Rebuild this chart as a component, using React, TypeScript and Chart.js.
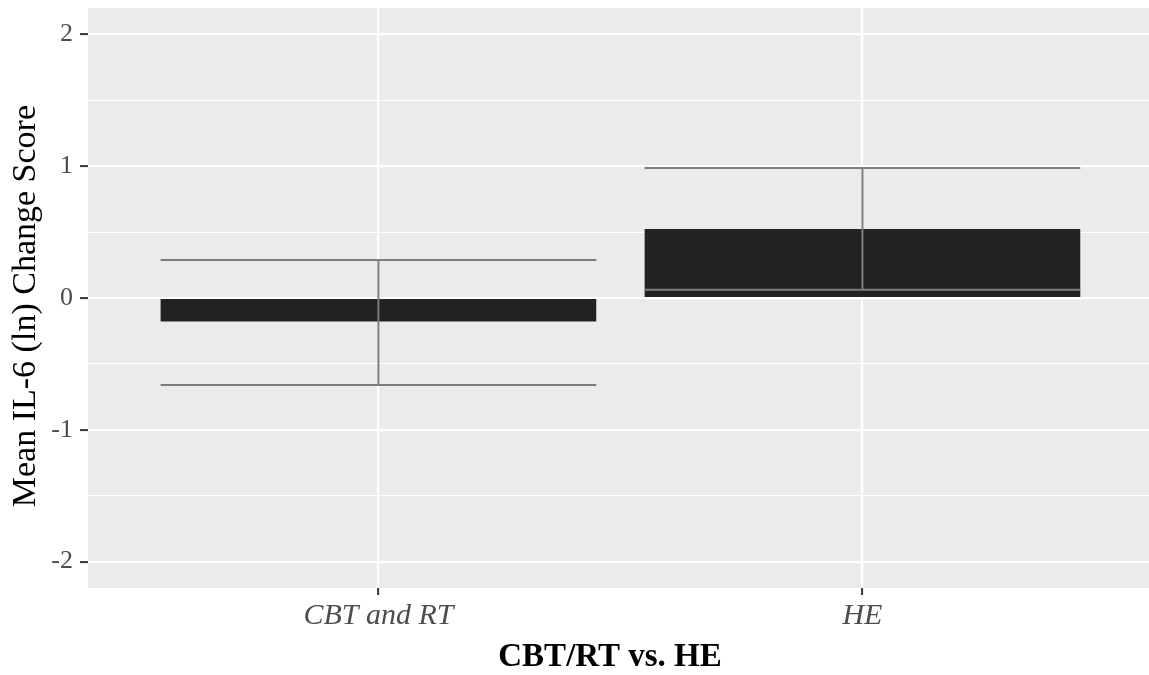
import React, { useEffect, useRef } from "react";
import { Chart, registerables } from "chart.js";

Chart.register(...registerables);

const categories = ["CBT and RT", "HE"];
const positions = [1, 2];
const means = [-0.178, 0.523];
const lowerCI = [-0.66, 0.062];
const upperCI = [0.288, 0.987];
const yTicks = [-2, -1.5, -1, -0.5, 0, 0.5, 1, 1.5, 2];
const yTitle = "Mean IL-6 (ln) Change Score";
const xTitle = "CBT/RT vs. HE";

const SERIF = "'Liberation Serif', 'DejaVu Serif', serif";

const panelBg = {
  id: "panelBg",
  beforeDraw(chart: any) {
    const { ctx, chartArea: a } = chart;
    ctx.save();
    ctx.fillStyle = "#EBEBEB";
    ctx.fillRect(a.left, a.top, a.right - a.left, a.bottom - a.top);
    ctx.restore();
  },
};

const errorBars = {
  id: "errorBars",
  afterDatasetsDraw(chart: any) {
    const { ctx } = chart;
    const xs = chart.scales.x;
    const ys = chart.scales.y;
    ctx.save();
    ctx.strokeStyle = "#7d7d7d";
    ctx.lineWidth = 2;
    positions.forEach((p, i) => {
      const xc = xs.getPixelForValue(p);
      const xl = xs.getPixelForValue(p - 0.45);
      const xr = xs.getPixelForValue(p + 0.45);
      const yl = ys.getPixelForValue(lowerCI[i]);
      const yu = ys.getPixelForValue(upperCI[i]);
      ctx.beginPath();
      ctx.moveTo(xl, yu);
      ctx.lineTo(xr, yu);
      ctx.moveTo(xl, yl);
      ctx.lineTo(xr, yl);
      ctx.moveTo(xc, yu);
      ctx.lineTo(xc, yl);
      ctx.stroke();
    });
    ctx.restore();
  },
};

const axisTitles = {
  id: "axisTitles",
  afterDraw(chart: any) {
    const { ctx, chartArea: a } = chart;
    ctx.save();
    ctx.fillStyle = "#000000";
    ctx.textAlign = "center";
    ctx.textBaseline = "middle";
    ctx.font = `bold 33px ${SERIF}`;
    ctx.fillText(xTitle, a.left + (a.right - a.left) * 0.492, 657);
    ctx.translate(26, a.top + (a.bottom - a.top) * 0.514);
    ctx.rotate(-Math.PI / 2);
    ctx.font = `34px ${SERIF}`;
    ctx.fillText(yTitle, 0, 0);
    ctx.restore();
  },
};

export default function App() {
  const ref = useRef<HTMLCanvasElement>(null);

  useEffect(() => {
    if (!ref.current) return;
    const chart = new Chart(ref.current, {
      type: "bar",
      data: {
        datasets: [
          {
            data: positions.map((p, i) => ({ x: p, y: means[i] })),
            backgroundColor: "#222222",
            borderWidth: 0,
            barPercentage: 0.9,
            categoryPercentage: 1.0,
          },
        ],
      },
      options: {
        responsive: false,
        animation: false,
        layout: { padding: { top: 8, right: 0, left: 0, bottom: 0 } },
        plugins: {
          legend: { display: false },
          tooltip: { enabled: false },
        },
        scales: {
          x: {
            type: "linear",
            offset: false,
            min: 0.4,
            max: 2.592,
            afterBuildTicks(scale: any) {
              scale.ticks = positions.map((v) => ({ value: v }));
            },
            afterFit(scale: any) {
              scale.height = 87;
              scale.paddingLeft = 0;
              scale.paddingRight = 0;
            },
            border: { display: false },
            grid: {
              offset: false,
              color: "#FFFFFF",
              lineWidth: 2.2,
              drawTicks: true,
              tickLength: 7,
              tickColor: "#333333",
              tickWidth: 2,
            },
            ticks: {
              padding: 3,
              color: "#4D4D4D",
              font: { family: SERIF, size: 30, style: "italic" },
              callback(v: any) {
                const i = positions.indexOf(Number(v));
                return i >= 0 ? categories[i] : "";
              },
              maxRotation: 0,
              autoSkip: false,
            },
          },
          y: {
            type: "linear",
            min: -2.2,
            max: 2.2,
            afterBuildTicks(scale: any) {
              scale.ticks = yTicks.map((v) => ({ value: v }));
            },
            afterFit(scale: any) {
              scale.width = 88;
              scale.paddingTop = 0;
              scale.paddingBottom = 0;
            },
            border: { display: false },
            grid: {
              color: "#FFFFFF",
              lineWidth: (c: any) =>
                c.tick && Number.isInteger(c.tick.value) ? 2.2 : 1.1,
              drawTicks: true,
              tickLength: 8,
              tickColor: (c: any) =>
                c.tick && Number.isInteger(c.tick.value) ? "#333333" : "rgba(0,0,0,0)",
              tickWidth: 2,
            },
            ticks: {
              padding: 7,
              color: "#4D4D4D",
              font: { family: SERIF, size: 26 },
              callback(v: any) {
                const n = Number(v);
                return Number.isInteger(n) ? String(n) : "";
              },
              autoSkip: false,
            },
          },
        },
      },
      plugins: [panelBg, errorBars, axisTitles],
    });
    return () => chart.destroy();
  }, []);

  return (
    <canvas
      ref={ref}
      width={1149}
      height={675}
      style={{ position: "absolute", top: 0, left: 0, display: "block" }}
    />
  );
}
